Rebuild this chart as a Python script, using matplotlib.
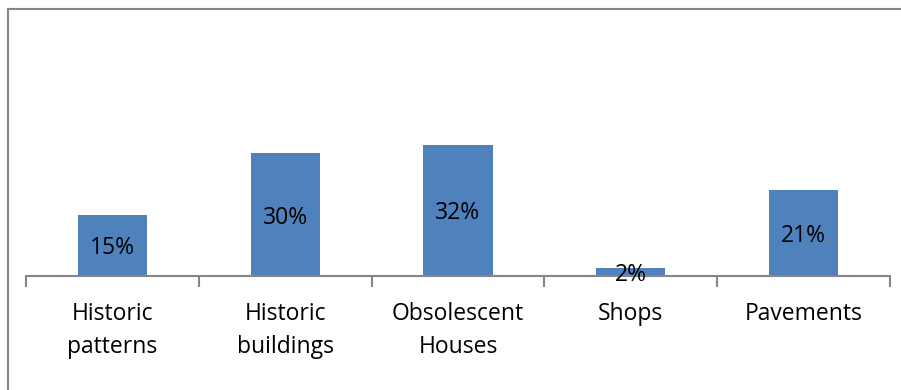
import matplotlib.pyplot as plt
import numpy as np

categories = ["Historic\npatterns", "Historic\nbuildings", "Obsolescent\nHouses", "Shops", "Pavements"]
values = [15, 30, 32, 2, 21]
value_labels = ["15%", "30%", "32%", "2%", "21%"]

plt.rcParams['font.family'] = ['Open Sans', 'DejaVu Sans']

W, H = 901, 390
fig = plt.figure(figsize=(W / 100, H / 100), dpi=100)

# axes box in pixel coords
left, right, bottom, top = 26, 890, 276, 30
ax = fig.add_axes([left / W, (H - bottom) / H, (right - left) / W, (bottom - top) / H])

x = np.arange(len(categories))
bar_color = "#4F81BD"
ax.bar(x, values, width=0.4, color=bar_color)

# value labels centred in each bar, nudged down a little like the original
for xi, v, lab in zip(x, values, value_labels):
    ax.annotate(lab, (xi, v / 2), xytext=(0, -3), textcoords="offset pixels",
                ha="center", va="center", fontsize=16.5, color="black")

ax.set_xlim(-0.5, len(categories) - 0.5)
ax.set_ylim(0, 60)

ax.set_yticks([])
for s in ["top", "right", "left"]:
    ax.spines[s].set_visible(False)
ax.spines["bottom"].set_color("#868686")
ax.spines["bottom"].set_linewidth(1.5)

ax.set_xticks(x)
ax.set_xticklabels(categories, fontsize=16.5, linespacing=1.5)
ax.tick_params(axis="x", which="major", length=0, pad=19)
ax.set_xticks(np.arange(-0.5, len(categories)), minor=True)
ax.tick_params(axis="x", which="minor", length=8, width=1.5, color="#868686", direction="out")

# outer chart frame (only left and top edges visible in the crop)
fig.add_artist(plt.Line2D([7.5 / W, 7.5 / W], [0, (H - 8.5) / H], color="#868686", lw=1.5,
                          transform=fig.transFigure))
fig.add_artist(plt.Line2D([7.5 / W, 1], [(H - 8.5) / H, (H - 8.5) / H], color="#868686", lw=1.5,
                          transform=fig.transFigure))

fig.savefig("out.png", dpi=100, facecolor="white")
